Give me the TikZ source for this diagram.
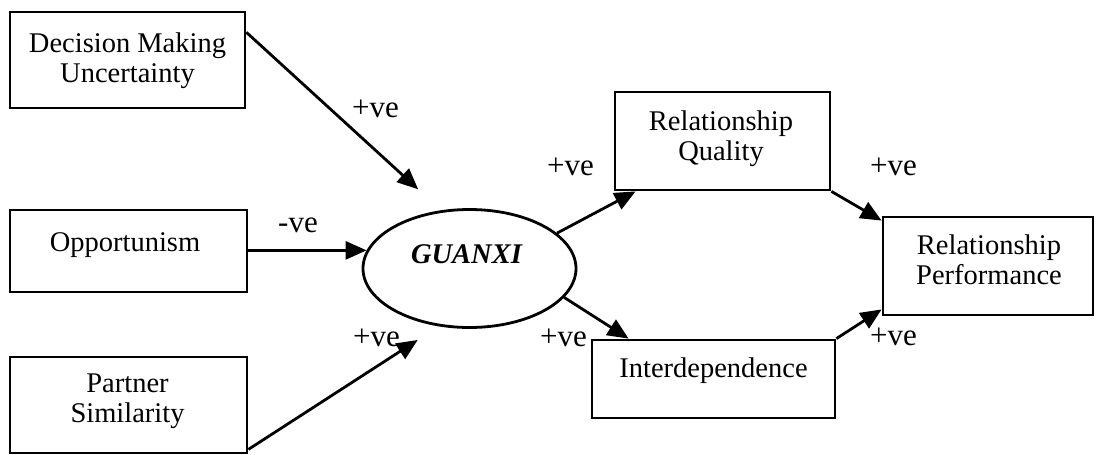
\documentclass[tikz,border=0pt]{standalone}
\usepackage{fontspec}
\setmainfont{Liberation Serif}
\usetikzlibrary{arrows.meta,calc,shapes.geometric}

\begin{document}
\begin{tikzpicture}[x=1pt,y=-1pt,
  box/.style={draw, line width=2.8pt, rectangle, inner sep=0pt},
  txt/.style={align=center, inner sep=0pt, font=\fontsize{28.5}{30}\selectfont},
  sign/.style={anchor=base west, inner sep=0pt, font=\fontsize{31}{33}\selectfont},
  link/.style={line width=2.8pt, -{Triangle[length=21pt,width=18pt]}},
]
\useasboundingbox (0,0) rectangle (1096,455);

% antecedents
\node[box, minimum width=235pt, minimum height=96pt] (dmu) at (127.5,60) {};
\node[txt] (dmut) at (127.5,61.5) {\strut Decision Making\\\strut Uncertainty};
\node[box, minimum width=237pt, minimum height=82pt] (opp) at (128.5,251) {};
\node[txt] (oppt) at (125,245) {\strut Opportunism};
\node[box, minimum width=237pt, minimum height=96pt] (ps) at (128.5,405) {};
\node[txt] (pst) at (127.5,401) {\strut Partner\\\strut Similarity};

% central construct
\node[draw, ellipse, line width=2.8pt, minimum width=213pt, minimum height=118pt, inner sep=0pt] (gx) at (469.5,268.5) {};
\node[txt, font=\fontsize{28.5}{30}\selectfont\bfseries\itshape] (gxt) at (466.5,257) {\strut GUANXI};

% outcomes
\node[box, minimum width=215pt, minimum height=98pt] (rq) at (722.5,141) {};
\node[txt] (rqt) at (721,139) {\strut Relationship\\\strut Quality};
\node[box, minimum width=243pt, minimum height=78pt] (id) at (713.5,379) {};
\node[txt] (idt) at (713.5,371) {\strut Interdependence};
\node[box, minimum width=210pt, minimum height=98pt] (rp) at (988,266) {};
\node[txt] (rpt) at (989,263) {\strut Relationship\\\strut Performance};

% paths
\draw[link, shorten >=31pt] ($(dmu.north east)!0.22!(dmu.south east)$) -- (gx.116.4);
\draw[link] (opp.east |- gx.170) -- (gx.170);
\draw[link, shorten >=25pt] ($(ps.south east)+(0,-5)$) -- (gx.242.4);
\draw[link] (gx.22.6) -- ($(rq.south west)+(22,0)$);
\draw[link] (gx.343.7) -- ($(id.north west)+(38,0)$);
\draw[link] (rq.south east) -- ($(rp.north west)+(0,5)$);
\draw[link] (id.north east) -- ($(rp.south west)+(0,-7)$);

% signs
\node[sign] (s1) at (352,117) {+ve};
\node[sign] (s2) at (278,232) {-ve};
\node[sign] (s3) at (353,346) {+ve};
\node[sign] (s4) at (547,175) {+ve};
\node[sign] (s5) at (540,346) {+ve};
\node[sign] (s6) at (870,175) {+ve};
\node[sign] (s7) at (870,345) {+ve};
\end{tikzpicture}
\end{document}
